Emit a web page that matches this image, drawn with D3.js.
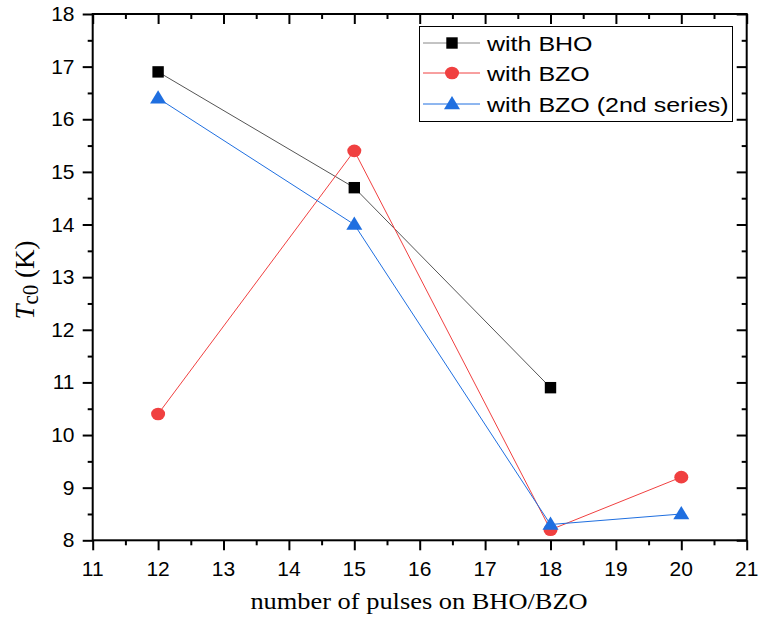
<!DOCTYPE html>
<html><head><meta charset="utf-8">
<script src="https://cdn.jsdelivr.net/npm/d3@7"></script>
<style>body{margin:0;background:#fff}svg{display:block}</style>
</head><body>
<script>
const seriesNames = ["with BHO", "with BZO", "with BZO (2nd series)"];
const xBHO = [12, 15, 18];
const yBHO = [16.9, 14.7, 10.9];
const xBZO = [12, 15, 18, 20];
const yBZO = [10.4, 15.4, 8.2, 9.2];
const xBZO2 = [12, 15, 18, 20];
const yBZO2 = [16.4, 14.0, 8.3, 8.5];
const xTicks = [11, 12, 13, 14, 15, 16, 17, 18, 19, 20, 21];
const yTicks = [8, 9, 10, 11, 12, 13, 14, 15, 16, 17, 18];
const xTitle = "number of pulses on BHO/BZO";

const W = 759, H = 628;
const L = 92.7, R = 746.7, T = 14, B = 540.3;

const svg = d3.select("body").append("svg").attr("width", W).attr("height", H);
const x = d3.scaleLinear().domain([11, 21]).range([L, R]);
const y = d3.scaleLinear().domain([8, 18]).range([B, T]);

const minorX = d3.range(11.5, 21, 1);
const minorY = d3.range(8.5, 18, 1);

function styleAxis(g) {
  g.select(".domain").remove();
  g.selectAll("line").attr("stroke", "#000").attr("stroke-width", 2);
  g.selectAll("text").remove();
}
// bottom
svg.append("g").attr("transform", `translate(0,${B})`).call(d3.axisBottom(x).tickValues(xTicks).tickSize(10)).call(styleAxis);
svg.append("g").attr("transform", `translate(0,${B})`).call(d3.axisBottom(x).tickValues(minorX).tickSize(5)).call(styleAxis);
// top (inward)
svg.append("g").attr("transform", `translate(0,${T})`).call(d3.axisBottom(x).tickValues(xTicks).tickSize(10)).call(styleAxis);
svg.append("g").attr("transform", `translate(0,${T})`).call(d3.axisBottom(x).tickValues(minorX).tickSize(5)).call(styleAxis);
// left
svg.append("g").attr("transform", `translate(${L},0)`).call(d3.axisLeft(y).tickValues(yTicks).tickSize(10)).call(styleAxis);
svg.append("g").attr("transform", `translate(${L},0)`).call(d3.axisLeft(y).tickValues(minorY).tickSize(5)).call(styleAxis);
// right (inward)
svg.append("g").attr("transform", `translate(${R},0)`).call(d3.axisLeft(y).tickValues(yTicks).tickSize(10)).call(styleAxis);
svg.append("g").attr("transform", `translate(${R},0)`).call(d3.axisLeft(y).tickValues(minorY).tickSize(5)).call(styleAxis);
// frame
svg.append("rect").attr("x", L).attr("y", T).attr("width", R - L).attr("height", B - T)
  .attr("fill", "none").attr("stroke", "#000").attr("stroke-width", 2);

// tick labels
const tickFont = "'Liberation Sans', Arial, sans-serif";
svg.append("g").selectAll("text").data(xTicks).join("text")
  .attr("transform", d => `translate(${x(d)},575.5) scale(1.05,1)`)
  .attr("text-anchor", "middle").attr("font-family", tickFont).attr("font-size", 20).text(d => d);
svg.append("g").selectAll("text").data(yTicks).join("text")
  .attr("transform", d => `translate(74.5,${y(d) + 7}) scale(1.05,1)`)
  .attr("text-anchor", "end").attr("font-family", tickFont).attr("font-size", 20).text(d => d);

// axis titles
const serif = "'Liberation Serif', 'Times New Roman', serif";
svg.append("text").attr("transform", `translate(419,609) scale(1.1,1)`)
  .attr("text-anchor", "middle").attr("font-family", serif).attr("font-size", 24).text(xTitle);
const yl = svg.append("text").attr("transform", `translate(34,280) scale(1.05,1) rotate(-90)`)
  .attr("text-anchor", "middle").attr("font-family", serif).attr("font-size", 27);
yl.append("tspan").attr("font-style", "italic").text("T");
yl.append("tspan").attr("font-size", 21).attr("dy", 4).text("c0");
yl.append("tspan").attr("dy", -4).text(" (K)");

// series
const series = [
  {name: seriesNames[0], xs: xBHO, ys: yBHO, line: "#555555", fill: "#000000", shape: "square"},
  {name: seriesNames[1], xs: xBZO, ys: yBZO, line: "#f04040", fill: "#f04040", shape: "circle"},
  {name: seriesNames[2], xs: xBZO2, ys: yBZO2, line: "#1f6fe0", fill: "#1f6fe0", shape: "triangle"}
];
function marker(g, shape, color) {
  if (shape === "square") {
    g.append("rect").attr("x", -5.7).attr("y", -5.7).attr("width", 11.4).attr("height", 11.4).attr("fill", color);
  } else if (shape === "circle") {
    g.append("ellipse").attr("rx", 7).attr("ry", 6.3).attr("fill", color);
  } else {
    g.append("path").attr("d", "M0,-8 L8,5.3 L-8,5.3 Z").attr("fill", color);
  }
}
const line = d3.line().x(d => x(d[0])).y(d => y(d[1]));
series.forEach(s => {
  const pts = s.xs.map((v, i) => [v, s.ys[i]]);
  svg.append("path").attr("d", line(pts)).attr("fill", "none").attr("stroke", s.line).attr("stroke-width", 1);
  pts.forEach(p => {
    const g = svg.append("g").attr("transform", `translate(${x(p[0])},${y(p[1])})`);
    marker(g, s.shape, s.fill);
  });
});

// legend
const lg = svg.append("g");
lg.append("rect").attr("x", 419.5).attr("y", 26.5).attr("width", 313).attr("height", 95)
  .attr("fill", "#fff").attr("stroke", "#000").attr("stroke-width", 1);
const rowY = [43, 73, 104];
const legLine = ["#888888", "#f04040", "#1f6fe0"];
series.forEach((s, i) => {
  lg.append("line").attr("x1", 423).attr("x2", 480).attr("y1", rowY[i]).attr("y2", rowY[i])
    .attr("stroke", legLine[i]).attr("stroke-width", 1);
  const g = lg.append("g").attr("transform", `translate(452,${rowY[i]})`);
  marker(g, s.shape, s.fill);
  lg.append("text").attr("transform", `translate(487,${rowY[i] + 7.5}) scale(1.19,1)`)
    .attr("font-family", tickFont).attr("font-size", 21).text(s.name);
});
</script>
</body></html>
